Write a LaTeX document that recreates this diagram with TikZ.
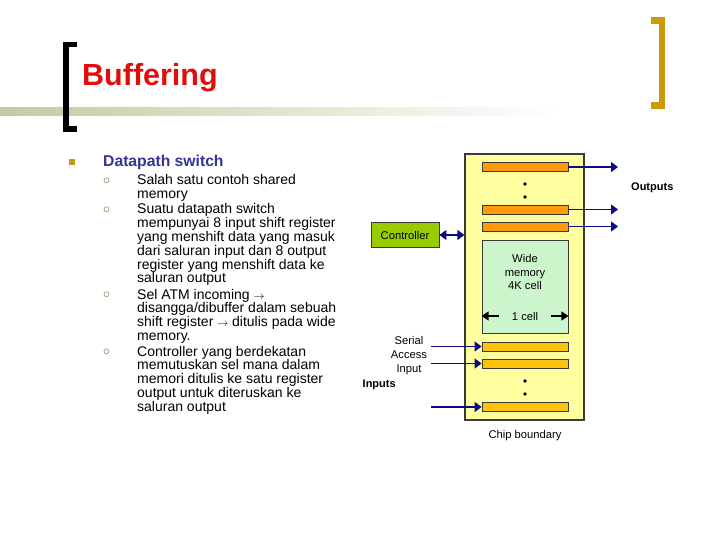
\documentclass[tikz,border=0pt]{standalone}
\usepackage{fontspec}
\setmainfont{Liberation Sans}
\usetikzlibrary{arrows.meta}
\definecolor{titlered}{HTML}{E00D0D}
\definecolor{brgold}{HTML}{CC9A06}
\definecolor{bulgold}{HTML}{BF9B1A}
\definecolor{headnavy}{HTML}{333399}
\definecolor{circol}{HTML}{A3A37A}
\definecolor{bandcol}{HTML}{C8C8A0}
\definecolor{arrnavy}{HTML}{0C0C80}
\definecolor{chipfill}{HTML}{FFFFA0}
\definecolor{outreg}{HTML}{FF9A0A}
\definecolor{inreg}{HTML}{FFC20A}
\definecolor{memfill}{HTML}{CCF5CC}
\definecolor{ctrlfill}{HTML}{99CC00}
\definecolor{edgegray}{HTML}{3A3A3A}
\begin{document}
\begin{tikzpicture}[x=1pt,y=-1pt,
  bodytext/.style={anchor=base west,inner sep=0pt,font=\fontsize{14}{13.8}\selectfont,text=black},
  subbullet/.style={draw=circol,line width=0.7pt},
  regbox/.style={draw=edgegray,line width=0.8pt,minimum width=86pt,minimum height=9pt,inner sep=0pt},
  navyarrow/.style={draw=arrnavy,line width=1.3pt,-{Triangle[length=7pt,width=10pt]}},
  navydarrow/.style={draw=arrnavy,line width=1.3pt,{Triangle[length=7pt,width=10pt]}-{Triangle[length=7pt,width=10pt]}},
  blackarrow/.style={draw=black,line width=1.4pt,-{Triangle[length=7pt,width=9pt]}},
  smalltext/.style={font=\fontsize{11.2}{13.7}\selectfont,inner sep=0pt,align=center},
  boldsmall/.style={font=\fontsize{11}{13}\selectfont\bfseries,inner sep=0pt}
]
\useasboundingbox (0,0) rectangle (720,540);
% header band
\shade[left color=bandcol,right color=white] (0,108) rectangle (560,116);
% brackets
\fill[black] (63,42) rectangle (68.5,132);
\fill[black] (63,42) rectangle (77,47.5);
\fill[black] (63,126.5) rectangle (77,132);
\fill[brgold] (658.5,17.5) rectangle (665,109.5);
\fill[brgold] (651,17.5) rectangle (665,24.5);
\fill[brgold] (651,102.5) rectangle (665,109.5);
% title
\node[anchor=base west,inner sep=0pt,font=\fontsize{30.5}{36}\selectfont\bfseries,text=titlered] (title) at (82,86) {Buffering};
% main bullet
\fill[bulgold] (68.5,159) rectangle (74.5,165);
\node[anchor=base west,inner sep=0pt,font=\fontsize{15.7}{18}\selectfont\bfseries,text=headnavy] (dp) at (103,166.7) {Datapath switch};
% sub bullets
\draw[subbullet] (106.5,180.3) circle (2.5);
\draw[subbullet] (106.5,209.3) circle (2.5);
\draw[subbullet] (106.5,294.3) circle (2.5);
\draw[subbullet] (106.5,351.3) circle (2.5);
\node[bodytext] (p1) at (137,185) {\vtop{\hbox{Salah satu contoh shared}\hbox{memory}}};
\node[bodytext] (p2) at (137,214) {\vtop{\hbox{Suatu datapath switch}\hbox{mempunyai 8 input shift register}\hbox{yang menshift data yang masuk}\hbox{dari saluran input dan 8 output}\hbox{register yang menshift data ke}\hbox{saluran output}}};
\node[bodytext] (p3) at (137,299) {\vtop{\hbox{Sel ATM incoming {\fontsize{11}{13}\selectfont$\rightarrow$}}\hbox{disangga/dibuffer dalam sebuah}\hbox{shift register {\fontsize{11}{13}\selectfont$\rightarrow$} ditulis pada wide}\hbox{memory.}}};
\node[bodytext] (p4) at (137,356) {\vtop{\hbox{Controller yang berdekatan}\hbox{memutuskan sel mana dalam}\hbox{memori ditulis ke satu register}\hbox{output untuk diteruskan ke}\hbox{saluran output}}};
% diagram
\node[draw=edgegray,fill=chipfill,line width=1.2pt,minimum width=119pt,minimum height=266pt,inner sep=0pt] (chip) at (524.5,287) {};
\node[regbox,fill=outreg] (out1) at (525,167) {};
\node[regbox,fill=outreg] (out2) at (525,209.5) {};
\node[regbox,fill=outreg] (out3) at (525,226.5) {};
\node[draw=edgegray,fill=memfill,line width=0.8pt,minimum width=86pt,minimum height=93pt,inner sep=0pt] (mem) at (525,286.5) {};
\node[smalltext] (memlbl) at (525,272) {Wide\\memory\\4K cell};
\node[smalltext] (cell) at (525,316) {1 cell};
\node[regbox,fill=inreg] (in1) at (525,346.5) {};
\node[regbox,fill=inreg] (in2) at (525,363.5) {};
\node[regbox,fill=inreg] (in3) at (525,407) {};
\node[draw=edgegray,fill=ctrlfill,line width=0.8pt,minimum width=68pt,minimum height=25.5pt,inner sep=0pt,font=\fontsize{11.2}{13}\selectfont] (ctrl) at (405,235) {Controller};
% dots
\fill (525,184) circle (1.9);
\fill (525,197) circle (1.9);
\fill (525,381) circle (1.9);
\fill (525,394) circle (1.9);
% output arrows
\coordinate (o1) at (618,167);
\coordinate (o2) at (618,209.5);
\coordinate (o3) at (618,226.5);
\draw[navyarrow] (out1.east) -- (o1);
\draw[navyarrow] (out2.east) -- (o2);
\draw[navyarrow] (out3.east) -- (o3);
% input arrows
\coordinate (i1) at (431,346.5);
\coordinate (i2) at (431,363.5);
\coordinate (i3) at (431,407);
\draw[navyarrow] (i1) -- (in1.west);
\draw[navyarrow] (i2) -- (in2.west);
\draw[navyarrow] (i3) -- (in3.west);
% controller arrow
\draw[navydarrow] (ctrl.east) -- (ctrl.east -| chip.west);
% 1 cell arrows
\coordinate (cl) at (499,316);
\coordinate (cr) at (551,316);
\draw[blackarrow] (cl) -- (cl -| mem.west);
\draw[blackarrow] (cr) -- (cr -| mem.east);
% labels
\node[boldsmall,anchor=west] (outs) at (631,188) {Outputs};
\node[smalltext] (serial) at (409,355.5) {Serial\\Access\\Input};
\node[boldsmall,anchor=west] (ins) at (362.5,384.5) {Inputs};
\node[smalltext] (chiplbl) at (525,436) {Chip boundary};
\end{tikzpicture}
\end{document}
